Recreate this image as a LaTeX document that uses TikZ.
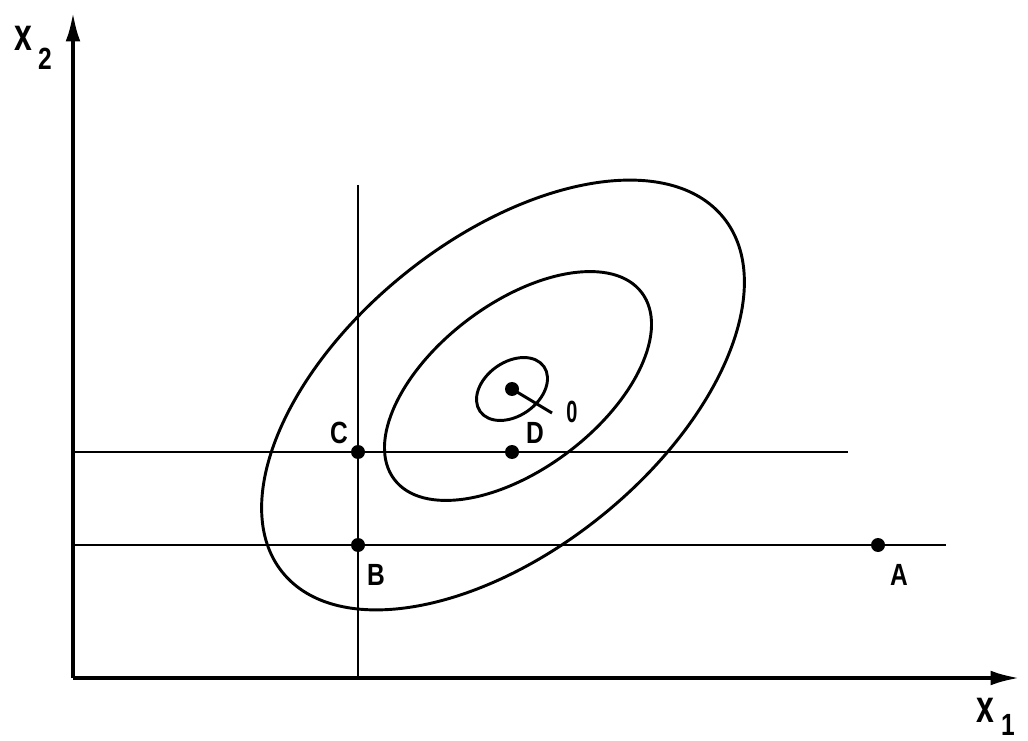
\documentclass[tikz,border=0pt]{standalone}
\usepackage{fontspec}
\setmainfont{Liberation Sans}
\usetikzlibrary{arrows.meta}
\begin{document}
\begin{tikzpicture}[x=0.75pt,y=0.75pt,
  line/.style={line width=2.2pt},
  axis/.style={line width=3pt,-{Latex[length=22pt,width=11pt]}},
  dot/.style={circle,fill=black,inner sep=0pt,minimum size=10.5pt},
  lbl/.style={inner sep=0pt,font=\fontsize{23}{23}\selectfont\bfseries},
  axlbl/.style={inner sep=0pt,font=\fontsize{30}{30}\selectfont\bfseries}]
\useasboundingbox (0,0) rectangle (1028,740);
% axes
\coordinate (org) at (73,62);
\coordinate (ytop) at (73,728);
\coordinate (xend) at (1020,62);
\draw[axis] (org) -- (ytop);
\draw[axis] (org) -- (xend);
% points
\node[dot] (C) at (358,288) {};
\node[dot] (B) at (358,195) {};
\node[dot] (D) at (512,288) {};
\node[dot] (A) at (878,195) {};
\node[dot] (O) at (512,351) {};
% line ends
\coordinate (vtop) at (358,555);
\coordinate (vbot) at (358,62);
\coordinate (cl) at (73,288);
\coordinate (cr) at (848,288);
\coordinate (bl) at (73,195);
\coordinate (br) at (946,195);
\coordinate (otail) at (552,327);
% lines
\draw[line] (vtop) -- (C.center) -- (B.center) -- (vbot);
\draw[line] (cl) -- (C.center) -- (D.center) -- (cr);
\draw[line] (bl) -- (B.center) -- (A.center) -- (br);
% ellipses
\draw[line,rotate around={38.75:(503,345)}] (503,345) ellipse [x radius=283,y radius=156];
\draw[line,rotate around={37:(518,354)}] (518,354) ellipse [x radius=155,y radius=83];
\draw[line,rotate around={35:(512,351)}] (512,351) ellipse [x radius=39,y radius=27];
\draw[line] (O.center) -- (otail);
% labels
\node[lbl] (lC) at (339,307) {\scalebox{0.8}[1]{C}};
\node[lbl] (lB) at (376,165) {\scalebox{0.8}[1]{B}};
\node[lbl] (lD) at (535,307) {\scalebox{0.8}[1]{D}};
\node[lbl] (lA) at (899,165) {\scalebox{0.8}[1]{A}};
\node[lbl] (lO) at (572,328) {\scalebox{0.65}[1]{0}};
\node[axlbl] (x2) at (23,702) {\scalebox{0.8}[1.15]{x}};
\node[lbl] (x2s) at (45,681) {\scalebox{0.8}[1]{2}};
\node[axlbl] (x1) at (985,30) {\scalebox{0.8}[1.15]{x}};
\node[lbl] (x1s) at (1008,15) {\scalebox{0.8}[1]{1}};
\end{tikzpicture}
\end{document}
